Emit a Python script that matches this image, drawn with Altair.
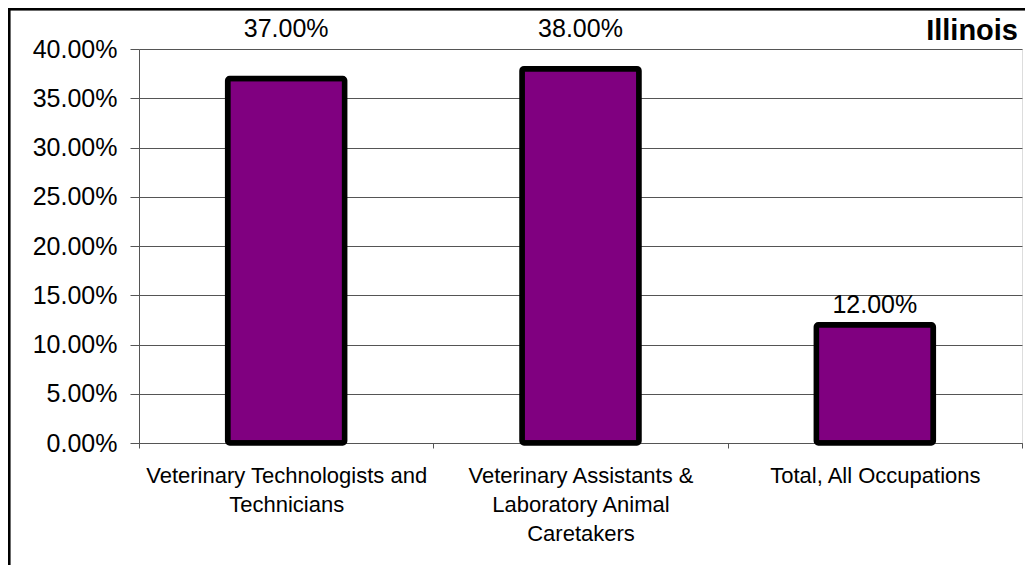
import altair as alt
import pandas as pd

# ---- data ----
categories = [
    "Veterinary Technologists and\nTechnicians",
    "Veterinary Assistants &\nLaboratory Animal\nCaretakers",
    "Total, All Occupations",
]
values = [0.37, 0.38, 0.12]
value_labels = ["37.00%", "38.00%", "12.00%"]
y_ticks = [0.0, 0.05, 0.10, 0.15, 0.20, 0.25, 0.30, 0.35, 0.40]
chart_title = ["Illinois"]

df = pd.DataFrame({"category": categories, "value": values, "label": value_labels})
title_df = pd.DataFrame({"t": chart_title})

FONT = "Liberation Sans"
W, H = 883, 394

x_enc = alt.X(
    "category:N",
    sort=categories,
    title=None,
    scale=alt.Scale(paddingInner=0, paddingOuter=0),
    axis=alt.Axis(
        labelAngle=0,
        labelFont=FONT,
        labelFontSize=22,
        labelLineHeight=29,
        labelColor="black",
        labelLimit=400,
        labelPadding=17,
        labelExpr="split(datum.label, '\\n')",
        ticks=True,
        tickBand="extent",
        tickSize=5,
        tickColor="#555555",
        domainColor="#555555",
        grid=False,
    ),
)

y_enc = alt.Y(
    "value:Q",
    title=None,
    scale=alt.Scale(domain=[0, 0.40], nice=False, zero=True),
    axis=alt.Axis(
        values=y_ticks,
        format=".2%",
        labelFont=FONT,
        labelFontSize=25,
        labelColor="black",
        labelPadding=13,
        tickSize=9,
        tickColor="#555555",
        domainColor="#555555",
        grid=True,
        gridColor="#555555",
        gridWidth=1,
    ),
)

bars = alt.Chart(df).mark_bar(
    size=117,
    color="#800080",
    stroke="black",
    strokeWidth=5.5,
    strokeJoin="round",
    cornerRadius=2,
).encode(x=x_enc, y=y_enc)

labels = alt.Chart(df).transform_calculate(
    label_y="datum.value > 0.3 ? 0.42 : datum.value + 0.02"
).mark_text(
    font=FONT, fontSize=25, color="black", baseline="middle", clip=False
).encode(
    x=alt.X("category:N", sort=categories),
    y=alt.Y("label_y:Q"),
    text="label:N",
)

title_text = alt.Chart(title_df).mark_text(
    font=FONT, fontSize=29, fontWeight="bold", color="black",
    align="right", baseline="alphabetic", clip=False
).encode(
    x=alt.value(W - 4), y=alt.value(-9), text="t:N"
)

frame = alt.Chart(df).mark_rect(
    fill=None, stroke="black", strokeWidth=2.5, clip=False
).encode(
    x=alt.value(-130), x2=alt.value(1100), y=alt.value(-40), y2=alt.value(700)
)

chart = (
    alt.layer(frame, bars, labels, title_text)
    .properties(
        width=W,
        height=H,
        autosize=alt.AutoSizeParams(type="none"),
        padding={"left": 131, "top": 41, "right": 3, "bottom": 122},
    )
    .configure_view(stroke=None)
    .configure(background="white")
)

chart.save("out.html", embed_options={"renderer": "svg", "actions": False})
